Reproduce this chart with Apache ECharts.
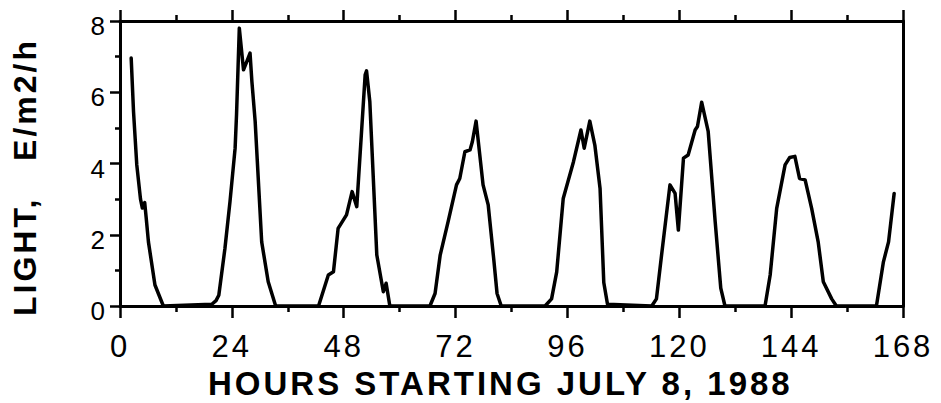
<!DOCTYPE html>
<html>
<head>
<meta charset="utf-8">
<script src="https://cdn.jsdelivr.net/npm/echarts@6/dist/echarts.min.js"></script>
<style>
  html, body { margin: 0; padding: 0; background: #fff; }
  #chart { width: 941px; height: 403px; }
  /* wide, typewriter-like spacing of the plot lettering */
  #chart text { letter-spacing: 3px; white-space: pre; }
</style>
</head>
<body>
<div id="chart"></div>
<script>
// Hourly light record, hours counted from the start of July 8, 1988
const hours = [
  2.4, 2.9, 3.6, 4.4, 4.8, 5.3, 5.6, 6.1, 7.5, 9.3,
  19.7, 20.6, 21.2, 22.5, 23.6, 24.7, 25.0, 25.6, 26.5, 27.2, 27.9, 28.3, 29.0, 30.4, 31.8, 33.4,
  42.6, 44.7, 45.8, 46.8, 48.6, 49.8, 50.8, 52.6, 52.9, 53.6, 55.1, 56.5, 57.1, 57.9,
  66.5, 67.6, 68.7, 70.4, 72.2, 72.9, 74.0, 75.1, 75.6, 76.4, 77.9, 79.0, 80.2, 80.9, 81.8,
  91.2, 92.6, 93.7, 95.1, 97.3, 98.9, 99.6, 100.8, 101.9, 103.0, 103.8, 104.6,
  114.1, 115.1, 116.2, 118.0, 119.1, 119.8, 120.9, 121.9, 123.4, 123.9, 124.8, 126.2, 127.7, 128.9, 129.8,
  138.4, 139.5, 140.9, 142.7, 143.7, 144.8, 145.8, 147.0, 148.4, 149.8, 150.9, 152.7, 153.7,
  162.3, 163.8, 164.9, 166.1
];
// Light, E/m2/h
const light = [
  6.96, 5.46, 3.96, 3.0, 2.75, 2.9, 2.5, 1.8, 0.59, 0,
  0.05, 0.15, 0.3, 1.6, 2.93, 4.43, 5.36, 7.8, 6.63, 6.86, 7.1, 6.3, 5.18, 1.8, 0.68, 0,
  0, 0.87, 0.96, 2.18, 2.56, 3.21, 2.79, 6.49, 6.6, 5.74, 1.43, 0.4, 0.64, 0,
  0, 0.35, 1.43, 2.37, 3.4, 3.58, 4.33, 4.38, 4.61, 5.19, 3.4, 2.84, 1.3, 0.35, 0,
  0, 0.2, 0.96, 3.02, 4.05, 4.94, 4.43, 5.19, 4.5, 3.3, 0.66, 0.05,
  0, 0.2, 1.43, 3.4, 3.16, 2.13, 4.15, 4.24, 4.94, 5.04, 5.72, 4.9, 2.37, 0.5, 0,
  0, 0.87, 2.74, 3.96, 4.17, 4.2, 3.58, 3.54, 2.74, 1.8, 0.68, 0.2, 0,
  0, 1.24, 1.8, 3.16
];
const xTicks = [0, 24, 48, 72, 96, 120, 144, 168];
const yTicks = [0, 2, 4, 6, 8];
const xTitle = 'HOURS STARTING JULY 8, 1988';
const yTitle = 'LIGHT,   E/m2/h';

const ink = '#000';
const font = '"Liberation Sans", Arial, Helvetica, sans-serif';

const chart = echarts.init(document.getElementById('chart'), null, { renderer: 'svg' });

const axisLine = { show: true, onZero: false, lineStyle: { color: ink, width: 3 } };
const tickStyle = { color: ink, width: 2.5 };

chart.setOption({
  animation: false,
  backgroundColor: '#fff',
  grid: { left: 120, right: 38, top: 21, bottom: 97, containLabel: false },
  xAxis: [
    {
      type: 'value', position: 'bottom',
      min: xTicks[0], max: xTicks[xTicks.length - 1], interval: 24,
      axisLine,
      axisTick: { show: true, inside: false, length: 12, lineStyle: tickStyle },
      minorTick: { show: true, splitNumber: 2, length: 6, lineStyle: tickStyle },
      splitLine: { show: false },
      axisLabel: {
        show: true, margin: 25, color: ink, fontFamily: font, fontSize: 31,
        showMinLabel: true, showMaxLabel: true
      }
    },
    {
      type: 'value', position: 'top',
      min: xTicks[0], max: xTicks[xTicks.length - 1], interval: 24,
      axisLine,
      axisTick: { show: true, inside: false, length: 11, lineStyle: tickStyle },
      minorTick: { show: true, splitNumber: 2, length: 6, lineStyle: tickStyle },
      splitLine: { show: false },
      axisLabel: { show: false }
    }
  ],
  yAxis: [
    {
      type: 'value', position: 'left',
      min: yTicks[0], max: yTicks[yTicks.length - 1], interval: 2,
      axisLine,
      axisTick: { show: true, inside: false, length: 10, lineStyle: tickStyle },
      minorTick: { show: true, splitNumber: 2, length: 5, lineStyle: tickStyle },
      splitLine: { show: false },
      axisLabel: {
        show: true, margin: 12, color: ink,
        formatter: (v) => '{v|' + v + '}',
        rich: { v: { fontFamily: font, fontSize: 26, color: ink, padding: [10, 0, 0, 0] } },
        showMinLabel: true, showMaxLabel: true
      }
    },
    {
      type: 'value', position: 'right',
      min: yTicks[0], max: yTicks[yTicks.length - 1], interval: 2,
      axisLine,
      axisTick: { show: false },
      splitLine: { show: false },
      axisLabel: { show: false }
    }
  ],
  graphic: [
    {
      type: 'text', left: 208, top: 367,
      style: { text: xTitle, fill: ink, font: 'bold 33px ' + font }
    },
    {
      type: 'text', x: 9, y: 177, rotation: Math.PI / 2,
      style: {
        text: yTitle, fill: ink, font: 'bold 32px ' + font,
        align: 'center', verticalAlign: 'top'
      }
    }
  ],
  series: [
    {
      type: 'line',
      xAxisIndex: 0, yAxisIndex: 0,
      data: hours.map((h, i) => [h, light[i]]),
      showSymbol: false,
      smooth: false,
      lineStyle: { color: ink, width: 3.5, join: 'round', cap: 'round' },
      silent: true
    }
  ]
});
</script>
</body>
</html>
